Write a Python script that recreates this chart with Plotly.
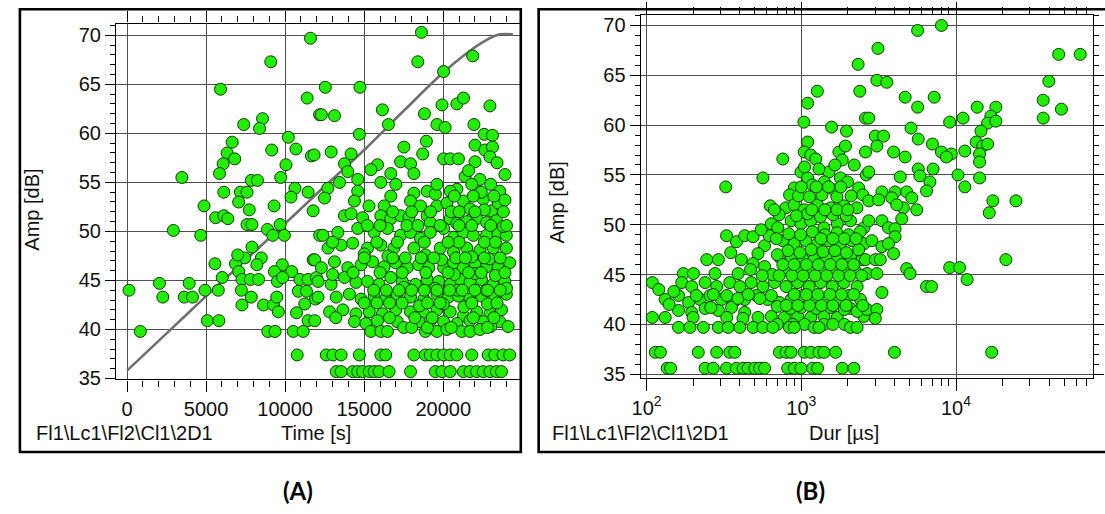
import plotly.graph_objects as go

W, H = 1105, 514

# ---------------- Panel A: Amp [dB] vs Time [s] ----------------
a_points_early = [
    (11600, 69.7), (9090, 67.3), (5910, 64.5), (11390, 63.6), (12180, 61.9), (7380, 60.9),
    (8570, 61.5), (8380, 60.5), (10200, 59.6), (6650, 59.1), (9150, 58.3), (10680, 58.4),
    (11660, 57.7), (6330, 58.0), (6810, 57.4), (6080, 56.9), (5850, 55.9), (10050, 56.8),
    (3470, 55.5), (9720, 55.5), (7860, 55.2), (8250, 55.2), (10620, 54.4), (11450, 54.0),
    (6120, 54.0), (7170, 54.0), (7590, 54.0), (7060, 53.0), (10370, 53.5), (4870, 52.6),
    (9300, 52.6), (7730, 52.2), (11770, 52.1), (5600, 51.4), (6120, 51.6), (6370, 51.3),
    (7590, 50.7), (7900, 50.7), (2930, 50.1), (4660, 49.6), (8880, 50.2), (9220, 49.6),
    (9680, 50.7), (9950, 49.6), (12180, 49.6), (7900, 48.4), (8490, 47.3), (7440, 47.3),
    (11770, 47.1), (5560, 46.7), (6860, 46.7), (7060, 45.9), (8210, 46.6), (9820, 46.6),
    (9320, 45.9), (10410, 45.9), (6020, 45.3), (7270, 45.1), (7800, 45.1), (8320, 45.1),
    (9510, 44.9), (9840, 45.3), (10930, 45.1), (11450, 45.1), (11980, 45.3), (125, 44.0),
    (2050, 44.7), (2260, 43.3), (3930, 44.7), (3620, 43.3), (4140, 43.3), (4930, 44.0),
    (5770, 44.0), (7230, 44.0), (7270, 42.5), (7860, 43.3), (8630, 42.5), (9260, 42.5),
    (9470, 43.3), (9570, 41.8), (10830, 43.9), (11350, 43.9), (11240, 42.6), (11920, 43.1),
    (10720, 41.7), (11450, 40.9), (5080, 40.9), (5810, 40.9), (840, 39.8), (8900, 39.8),
    (9360, 39.8), (10510, 39.8), (11140, 39.8), (10760, 37.4), (7000, 47.6),
]
a_points_late = [
    (18620, 70.3), (18390, 67.3), (21860, 67.9), (20020, 66.3), (12540, 64.7), (14730, 64.7),
    (16150, 62.4), (12290, 61.9), (13120, 61.8), (16530, 60.9), (18810, 62.0), (19920, 62.9),
    (20860, 63.0), (21280, 63.6), (22950, 62.8), (19600, 60.9), (20120, 60.6), (21940, 60.9),
    (14690, 59.9), (22590, 59.9), (23110, 59.8), (17510, 58.6), (18930, 59.2), (22010, 58.8),
    (22630, 58.3), (23110, 58.6), (11830, 57.8), (12910, 58.1), (14170, 57.9), (18700, 57.9),
    (20020, 57.4), (20440, 57.4), (20960, 57.4), (22010, 57.1), (22950, 57.6), (13750, 56.9),
    (13960, 56.1), (15840, 56.8), (15420, 56.3), (17300, 57.1), (17930, 56.9), (16680, 55.9),
    (18140, 55.9), (21380, 55.6), (22320, 55.3), (13440, 55.0), (14590, 55.3), (14590, 54.1),
    (16050, 55.0), (12700, 54.4), (12490, 53.4), (20860, 54.3), (20440, 54.1), (23570, 54.1),
    (18140, 53.9), (18980, 54.1), (14380, 53.1), (16680, 53.6), (16260, 52.6), (17930, 53.1),
    (18560, 52.6), (19600, 52.6), (20230, 52.9), (21270, 53.1), (21690, 52.3), (22530, 53.3),
    (23050, 52.1), (23470, 52.9), (13750, 51.6), (14170, 51.8), (14900, 51.4), (16050, 51.6),
    (16680, 51.3), (17300, 51.6), (17830, 51.4), (18980, 51.6), (19180, 50.9), (20440, 51.3),
    (20860, 50.8), (22110, 51.3), (22740, 50.9), (23360, 51.1), (12390, 49.6), (13330, 49.9),
    (14590, 50.3), (15630, 49.9), (16470, 50.3), (17300, 49.6), (17930, 49.9), (18560, 49.3),
    (19180, 49.9), (20020, 50.3), (20650, 49.4), (21270, 49.9), (21900, 49.6), (22740, 49.6),
    (23470, 49.8), (23990, 49.6), (11870, 47.1), (12710, 48.3), (13540, 48.6), (14270, 48.8),
    (15210, 48.3), (16050, 48.6), (16880, 48.3), (18140, 48.3), (18870, 47.6), (19810, 48.3),
    (20650, 47.9), (21480, 48.3), (22320, 48.1), (23160, 48.3), (23990, 48.3), (12290, 46.3),
    (13120, 46.9), (13960, 46.3), (14800, 46.6), (15530, 46.9), (16260, 46.4), (16990, 46.8),
    (17720, 46.3), (18450, 46.6), (19080, 46.3), (20020, 46.3), (20650, 46.8), (21270, 46.3),
    (22010, 46.6), (22740, 46.4), (23470, 46.3), (24200, 46.8), (12080, 44.9), (12910, 44.6),
    (13750, 45.3), (14480, 44.8), (15210, 44.9), (15940, 44.6), (16680, 45.3), (17410, 44.9),
    (18240, 44.6), (18980, 45.1), (19710, 44.9), (20440, 44.6), (21070, 45.1), (21690, 44.8),
    (22420, 45.1), (23160, 44.6), (23890, 44.9), (12080, 43.3), (13230, 43.3), (14060, 43.6),
    (14800, 43.1), (15630, 43.4), (16360, 43.1), (17090, 43.6), (17930, 43.3), (18770, 43.1),
    (19600, 43.6), (20330, 43.3), (20960, 43.4), (21690, 43.1), (22420, 43.4), (23260, 43.3),
    (23990, 43.6), (11870, 40.9), (12810, 41.8), (13650, 42.0), (14480, 41.6), (15320, 41.8),
    (16150, 41.6), (16990, 42.0), (17930, 41.8), (18770, 41.6), (19600, 42.0), (20440, 41.8),
    (21270, 41.4), (22110, 41.8), (22950, 41.6), (23680, 42.0), (14380, 40.8), (15110, 40.6),
    (15840, 40.9), (17090, 40.8), (18450, 40.8), (19180, 40.9), (20020, 40.8), (20860, 40.6),
    (21690, 40.9), (22530, 40.8), (23570, 40.8), (15420, 39.8), (16050, 39.8), (16470, 39.8),
    (18870, 39.8), (19600, 39.8), (20230, 40.0), (21170, 39.8), (21690, 39.8), (22320, 40.0),
    (20500, 52.0), (21500, 51.0), (22600, 52.2), (23800, 50.5), (21000, 48.9), (22900, 47.2),
    (19900, 47.1), (21800, 47.4), (23300, 45.5), (22000, 45.7), (20700, 45.6), (19500, 44.2),
    (20900, 44.0), (22700, 44.0), (24000, 44.2), (21300, 42.3), (22800, 42.6), (20000, 42.6),
    (18500, 42.4), (24100, 40.3), (23000, 40.3), (17500, 44.3), (16500, 47.5), (15000, 47.7),
    (13000, 45.6), (17700, 50.6), (15300, 52.6), (19500, 53.8), (22400, 54.0), (23900, 53.2),
    (21600, 56.2), (23400, 57.0), (23900, 55.8),
]
# extra hits in the dense band and the quantised low-amplitude rows (amplitude, times)
a_dense_rows = [
    (44.0, [15600, 16400, 17200, 18000, 18800, 19600, 20400, 21200, 22000, 22800, 23600]),
    (47.3, [15000, 16800, 17600, 18600, 19400, 20800, 21400, 22600, 23600]),
    (50.6, [15200, 16000, 18400, 19800, 21000, 21800, 23000, 24000]),
    (42.7, [15000, 15800, 16600, 17400, 19000, 19800, 21800, 23400]),
    (52.0, [16800, 18000, 19200, 21000, 22000, 23800]),
    (54.8, [17000, 19600, 21800, 23000]),
    (40.2, [17500, 18000, 19000, 20500, 22800]),
    (45.8, [14300, 16000, 17400, 18900, 20300, 21600, 22400, 23900]),
    (48.9, [13000, 15800, 17100, 18800, 20300, 22600, 23300]),
    (41.2, [13200, 16600, 18200, 19300, 21900, 23200]),
    (53.6, [20700, 21900, 23200]),
    (37.4, [12600, 13020, 13540, 14690, 16050, 16360, 18140, 18870, 19180, 19600,
            20020, 20440, 20860, 21800, 22840, 23260, 23780, 24200]),
    (35.7, [13230, 13540, 14270, 14590, 14900, 15320, 15630, 15940, 16570, 17930,
            19500, 19920, 20440, 21270, 21690, 22110, 22530, 22950, 23360, 23680]),
]

# cumulative hits curve (scaled to the amplitude axis)
curve_time = [0, 2500, 5000, 7500, 10000, 12500, 15000, 17500, 20000, 21500, 22500, 23200, 23600, 24400]
curve_level = [35.8, 39.6, 43.4, 47.1, 50.8, 54.6, 58.3, 62.3, 66.2, 68.2, 69.3, 69.9, 70.1, 70.1]

# ---------------- Panel B: Amp [dB] vs Dur [us] ----------------
b_points_main = [
    (2330, 66.1), (1270, 63.4), (2390, 63.4), (1100, 62.2), (1040, 60.3), (2600, 60.7),
    (1570, 59.8), (1960, 59.4), (1100, 58.3), (1045, 57.3), (1150, 57.0), (1240, 56.6),
    (760, 56.6), (1750, 57.3), (1930, 57.9), (1840, 56.5), (565, 54.7), (325, 53.8),
    (995, 55.3), (1100, 54.7), (1180, 54.0), (900, 53.7), (840, 53.0), (1510, 55.3),
    (1410, 54.3), (1790, 54.7), (1620, 53.5), (1990, 54.3), (2350, 53.7), (2630, 55.0),
    (630, 51.9), (795, 51.7), (900, 52.0), (1045, 51.5), (1270, 52.0), (1550, 51.7),
    (1890, 51.9), (2290, 51.7), (640, 50.1), (705, 49.7), (860, 50.4), (995, 50.1),
    (1150, 50.4), (1400, 49.7), (1710, 50.1), (2080, 50.4), (2540, 49.7), (329, 48.9),
    (381, 48.3), (431, 48.9), (488, 48.8), (579, 47.9), (525, 47.1), (760, 48.4),
    (900, 48.1), (1070, 48.4), (1270, 48.1), (1510, 48.4), (1800, 48.1), (2130, 48.4),
    (2540, 48.1), (245, 46.5), (291, 46.5), (720, 46.8), (860, 46.5), (1020, 46.6),
    (1210, 46.5), (1440, 46.8), (1710, 46.5), (2080, 46.8), (2470, 46.5), (488, 46.1),
    (579, 45.8), (173, 45.1), (201, 45.1), (277, 45.1), (391, 45.1), (109, 44.2),
    (120, 43.5), (132, 42.5), (169, 44.2), (196, 43.8), (239, 44.2), (284, 43.8),
    (345, 44.2), (401, 43.8), (475, 44.2), (565, 43.8), (671, 44.2), (798, 43.8),
    (948, 44.2), (1125, 43.8), (1336, 44.2), (1589, 43.8), (1888, 44.2), (2296, 43.8),
    (161, 42.9), (187, 42.2), (222, 42.5), (257, 42.9), (305, 42.5), (363, 42.2),
    (431, 42.5), (512, 42.9), (608, 42.5), (723, 42.2), (859, 42.5), (1021, 42.9),
    (1211, 42.5), (1439, 42.2), (1710, 42.5), (2032, 42.9), (2410, 42.5),
    (109, 40.7), (132, 40.7),
    (161, 41.4), (196, 41.2), (239, 41.6), (291, 41.4), (354, 41.7), (431, 41.2),
    (525, 40.7), (640, 40.8), (778, 40.7), (948, 40.8), (1153, 40.7), (1403, 40.8),
    (1710, 40.7), (2080, 41.6), (2535, 40.8),
    (800, 45.4), (950, 45.6), (1120, 45.3), (1330, 45.5), (1580, 45.4), (1880, 45.6), (2250, 45.3),
    (820, 47.4), (980, 47.2), (1160, 47.5), (1380, 47.3), (1650, 47.4), (1960, 47.2), (2350, 47.5),
    (830, 49.1), (990, 49.0), (1180, 49.3), (1420, 49.0), (1700, 49.2), (2020, 49.0), (2400, 49.3),
    (720, 51.0), (930, 50.9), (1100, 51.1), (1330, 50.8), (1600, 51.0), (1950, 50.9),
    (960, 52.9), (1130, 52.8), (1360, 53.0), (1700, 52.8), (2100, 52.9), (2500, 53.0),
    (1050, 55.8), (1300, 55.6), (1650, 56.0), (2200, 56.0),
    (650, 45.0), (560, 44.9), (470, 45.5), (410, 46.5), (350, 47.2), (700, 47.0), (620, 48.9),
    (550, 49.5), (150, 43.3), (210, 42.9), (270, 43.0), (330, 42.9), (390, 42.6), (455, 43.0),
    (540, 42.6), (640, 42.9), (700, 41.8), (850, 41.6), (1000, 41.7), (1250, 41.6), (1550, 41.7),
    (1900, 41.5), (2300, 41.3), (260, 41.7), (330, 40.7), (420, 40.6), (200, 40.7), (140, 42.0),
]
b_points_long = [
    (8050, 70.0), (5650, 69.5), (3130, 67.7), (46100, 67.1), (63500, 67.1), (3080, 64.5),
    (3570, 64.3), (39800, 64.4), (4690, 62.8), (7230, 62.8), (5650, 61.8), (36600, 62.5),
    (48000, 61.6), (36600, 60.7), (2730, 60.7), (9100, 60.3), (11100, 60.7), (13700, 61.8),
    (18100, 61.8), (16800, 60.9), (16000, 60.2), (18100, 60.4), (5120, 59.7), (3010, 58.9),
    (3400, 58.9), (3080, 57.9), (2600, 57.3), (5700, 58.6), (7040, 58.1), (14500, 59.4),
    (13500, 58.3), (14900, 57.9), (16000, 58.1), (3950, 57.3), (4690, 56.8), (8050, 57.3),
    (9330, 57.1), (8670, 56.8), (11400, 57.4), (14200, 57.1), (14200, 56.3), (14200, 54.7),
    (2730, 55.3), (4360, 54.8), (5700, 55.6), (5840, 54.9), (7110, 55.6), (10300, 55.0),
    (11400, 53.8), (6780, 54.3), (6450, 53.4), (17300, 52.4), (16400, 51.2), (24400, 52.4),
    (3320, 53.3), (4040, 53.3), (4800, 53.3), (2730, 52.4), (3160, 52.5), (3850, 52.7),
    (5180, 52.7), (5570, 51.5), (4570, 51.7), (4140, 52.0), (2730, 50.4), (3320, 50.4),
    (3660, 49.7), (4460, 50.6), (4040, 49.6), (2860, 48.4), (3320, 47.8), (4040, 48.8),
    (3660, 48.1), (3950, 47.1), (2600, 46.5), (3010, 46.5), (3240, 46.5), (2660, 45.1),
    (3080, 45.1), (4800, 45.6), (5050, 45.1), (9100, 45.7), (10550, 45.7), (11800, 44.5),
    (21000, 46.5), (6450, 43.8), (6950, 43.8), (3320, 43.2), (2660, 41.5), (3080, 41.5),
    (3010, 40.6), (4000, 37.2), (17000, 37.2),
]
# extra hits in the dense core and the quantised low-amplitude rows (amplitude, durations)
b_dense_rows = [
    (44.9, [720, 870, 1030, 1230, 1460, 1740, 2070, 2460]),
    (46.0, [760, 900, 1080, 1290, 1540, 1830, 2180]),
    (48.6, [690, 1340, 1600, 1900, 2260]),
    (51.5, [670, 1170, 1420, 1700, 2000]),
    (53.8, [1000, 1250, 1500, 1800]),
    (41.9, [800, 950, 1130, 1350, 1600, 1950, 2500]),
    (43.0, [900, 1080, 1280, 1530, 1820, 2180]),
    (40.0, [700, 880, 1050, 1400, 1600, 1900]),
    (39.7, [161, 191, 233, 291, 337, 401, 488, 565, 655, 838, 902, 1211, 1303, 2080, 2296]),
    (37.2, [114, 123, 216, 284, 345, 372, 723, 798, 859, 1045, 1153, 1303, 1403, 1667]),
    (35.6, [136, 143, 239, 270, 329, 381, 421, 453, 500, 538, 579, 817, 902, 995,
            1183, 1274, 1840, 2188]),
]

x_tick_labels_b = ["10<sup>2</sup>", "10<sup>3</sup>", "10<sup>4</sup>"]
x_tick_vals_b = [100, 1000, 10000]
panel_labels = ["(A)", "(B)"]
chain_label = r"Fl1\Lc1\Fl2\Cl1\2D1"

# ---------------- assemble ----------------
a_pts = a_points_early + a_points_late + [(t, amp) for amp, ts in a_dense_rows for t in ts]
b_pts = b_points_main + b_points_long + [(d, amp) for amp, ds in b_dense_rows for d in ds]


def px(x):
    return x / W


def py(y):
    return 1 - y / H


GREEN = "#22ee00"
EDGE = "#123a0a"
GRID = "#505050"
FONT = "Liberation Sans, Arial, sans-serif"

marker = dict(size=12, color=GREEN, line=dict(color=EDGE, width=1))

fig = go.Figure()
fig.add_trace(go.Scatter(x=curve_time, y=curve_level, mode="lines",
                         line=dict(color="#707070", width=2.6, shape="spline"),
                         xaxis="x", yaxis="y", hoverinfo="skip"))
fig.add_trace(go.Scatter(x=[p[0] for p in a_pts], y=[p[1] for p in a_pts], mode="markers",
                         marker=marker, xaxis="x", yaxis="y"))
fig.add_trace(go.Scatter(x=[p[0] for p in b_pts], y=[p[1] for p in b_pts], mode="markers",
                         marker=marker, xaxis="x2", yaxis="y2"))

tickfont = dict(family=FONT, size=20, color="#111")
common = dict(showline=True, linecolor="black", linewidth=1.4, ticks="outside",
              tickcolor="black", tickwidth=1.3, showgrid=True, gridcolor=GRID,
              gridwidth=1.2, zeroline=False, tickfont=tickfont)

fig.update_layout(
    width=W, height=H, margin=dict(l=0, r=0, t=0, b=0),
    paper_bgcolor="white", plot_bgcolor="white", showlegend=False,
    xaxis=dict(domain=[px(108), px(515)], range=[-690, 24840], anchor="y",
               tick0=0, dtick=5000, tickformat="d", ticklen=11, mirror="ticks",
               minor=dict(dtick=1000, ticks="outside", ticklen=6, tickcolor="black",
                          showgrid=False),
               **common),
    yaxis=dict(domain=[py(387), py(24)], range=[34.9, 71.2], anchor="x",
               tick0=35, dtick=5, ticklen=10, mirror=True,
               minor=dict(dtick=1, ticks="outside", ticklen=5, tickcolor="black",
                          showgrid=False),
               **common),
    xaxis2=dict(domain=[px(637), px(1093)], type="log", range=[1.963, 4.886], anchor="y2",
                tickmode="array", tickvals=x_tick_vals_b, ticktext=x_tick_labels_b,
                ticklen=12, mirror="ticks",
                minor=dict(dtick="D1", ticks="outside", ticklen=7, tickcolor="black",
                           showgrid=False),
                **common),
    yaxis2=dict(domain=[py(385), py(15)], range=[34.67, 71.08], anchor="x2",
                tick0=35, dtick=5, ticklen=10, mirror="ticks",
                minor=dict(dtick=1, ticks="outside", ticklen=5, tickcolor="black",
                           showgrid=False),
                **common),
)

lab = dict(family=FONT, size=20, color="#111")
ann = [
    dict(text="Amp [dB]", x=px(23), y=py(214), textangle=-90, xanchor="center", yanchor="middle"),
    dict(text="Amp [dB]", x=px(552), y=py(207), textangle=-90, xanchor="center", yanchor="middle"),
    dict(text=chain_label, x=px(25), y=py(442), xanchor="left", yanchor="middle"),
    dict(text="Time [s]", x=px(310), y=py(442), xanchor="center", yanchor="middle"),
    dict(text=chain_label, x=px(545), y=py(442), xanchor="left", yanchor="middle"),
    dict(text="Dur [µs]", x=px(842), y=py(442), xanchor="center", yanchor="middle"),
]
for a in ann:
    a.update(xref="paper", yref="paper", showarrow=False, font=lab)
for txt, cx in zip(panel_labels, [291, 808]):
    ann.append(dict(text="<b>" + txt + "</b>", x=px(cx), y=py(500), xref="paper", yref="paper",
                    showarrow=False, xanchor="center", yanchor="middle",
                    font=dict(family="Lato, Open Sans, sans-serif", size=24, color="black")))
fig.update_layout(annotations=ann)

fig.update_layout(shapes=[
    dict(type="rect", xref="paper", yref="paper", x0=px(11), x1=px(516), y0=py(461), y1=py(9.5),
         line=dict(color="black", width=2.6)),
    dict(type="rect", xref="paper", yref="paper", x0=px(534), x1=px(1112), y0=py(461), y1=py(9.5),
         line=dict(color="black", width=2.6)),
])

fig.write_html("out.html")
